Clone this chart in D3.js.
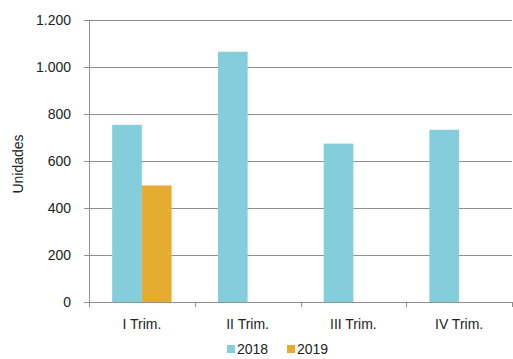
<!DOCTYPE html>
<html>
<head>
<meta charset="utf-8">
<script src="https://cdn.jsdelivr.net/npm/d3@7"></script>
<style>
  body { margin: 0; background: #fff; }
  text { font-family: "Liberation Sans", Arial, sans-serif; fill: #222; }
</style>
</head>
<body>
<svg id="chart"></svg>
<script>
// data
const quarters = ["I Trim.", "II Trim.", "III Trim.", "IV Trim."];
const years = ["2018", "2019"];
const values2018 = [754, 1065, 674, 733];
const values2019 = [496, null, null, null];
const yTicks = [0, 200, 400, 600, 800, 1000, 1200];
const colors = ["#84cdda", "#e5ac30"];

const width = 513, height = 359;
const margin = { top: 20, right: 1, bottom: 57, left: 89 };

const svg = d3.select("#chart").attr("width", width).attr("height", height);

const x = d3.scaleBand().domain(quarters)
  .range([margin.left, width - margin.right]);
const xInner = d3.scaleBand().domain(years)
  .range([0, x.bandwidth()]).paddingOuter(0.78).paddingInner(0);
const y = d3.scaleLinear().domain([0, 1200])
  .range([height - margin.bottom, margin.top]);

const fmt = d => d3.format(",")(d).replace(/,/g, ".");

//gridlines
svg.append("g")
  .selectAll("line")
  .data(yTicks)
  .join("line")
  .attr("x1", margin.left - 5)
  .attr("x2", width - margin.right)
  .attr("y1", d => Math.round(y(d)) + 0.5)
  .attr("y2", d => Math.round(y(d)) + 0.5)
  .attr("stroke", "#8f8f8f")
  .attr("stroke-width", 1);

//y labels
svg.append("g")
  .selectAll("text")
  .data(yTicks)
  .join("text")
  .attr("x", 71)
  .attr("y", d => y(d))
  .attr("dy", "0.36em")
  .attr("text-anchor", "end")
  .style("font-size", "14px")
  .text(fmt);

//y axis line
svg.append("line")
  .attr("x1", margin.left + 0.5).attr("x2", margin.left + 0.5)
  .attr("y1", margin.top).attr("y2", Math.round(y(0)) + 5)
  .attr("stroke", "#8f8f8f");

//category ticks
svg.append("g")
  .selectAll("line")
  .data(quarters.slice(1).concat(["end"]))
  .join("line")
  .attr("x1", (d, i) => Math.round(margin.left + (i + 1) * x.step()) + 0.5)
  .attr("x2", (d, i) => Math.round(margin.left + (i + 1) * x.step()) + 0.5)
  .attr("y1", Math.round(y(0)))
  .attr("y2", Math.round(y(0)) + 5)
  .attr("stroke", "#8f8f8f");

//bars
const series = [values2018, values2019];
const groups = svg.append("g")
  .selectAll("g")
  .data(quarters)
  .join("g")
  .attr("transform", d => `translate(${x(d)},0)`);

groups.selectAll("rect")
  .data((q, i) => years.map((yr, j) => ({ yr, v: series[j][i], c: colors[j] })))
  .join("rect")
  .filter(d => d.v != null)
  .attr("x", d => xInner(d.yr))
  .attr("width", xInner.bandwidth())
  .attr("y", d => y(d.v))
  .attr("height", d => y(0) - y(d.v))
  .attr("fill", d => d.c);

//x axis line over bars
svg.append("line")
  .attr("x1", margin.left - 5).attr("x2", width - margin.right)
  .attr("y1", Math.round(y(0)) + 0.5).attr("y2", Math.round(y(0)) + 0.5)
  .attr("stroke", "#8f8f8f");

//x labels
svg.append("g")
  .selectAll("text")
  .data(quarters)
  .join("text")
  .attr("x", d => x(d) + x.bandwidth() / 2)
  .attr("y", 329)
  .attr("text-anchor", "middle")
  .style("font-size", "14px")
  .text(d => d);

//y title
svg.append("text")
  .attr("transform", "translate(23,164) rotate(-90)")
  .attr("text-anchor", "middle")
  .style("font-size", "14px")
  .text("Unidades");

//legend
const leg = svg.append("g")
  .selectAll("g")
  .data(years)
  .join("g")
  .attr("transform", (d, i) => `translate(${227 + i * 60},345)`);
leg.append("rect")
  .attr("width", 8).attr("height", 8)
  .attr("fill", (d, i) => colors[i]);
leg.append("text")
  .attr("x", 10).attr("y", 9)
  .style("font-size", "14px")
  .text(d => d);
</script>
</body>
</html>
